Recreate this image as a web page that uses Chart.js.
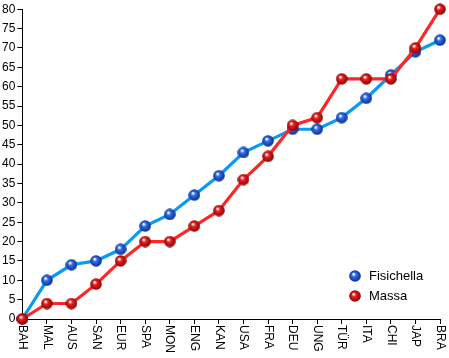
<!DOCTYPE html>
<html>
<head>
<meta charset="utf-8">
<script src="https://cdn.jsdelivr.net/npm/chart.js@4/dist/chart.umd.min.js"></script>
<style>
  html, body { margin: 0; padding: 0; background: #fff; }
  #wrap { width: 449px; height: 358px; }
</style>
</head>
<body>
<div id="wrap"><canvas id="pointsChart"></canvas></div>
<script>
const races = ['BAH', 'MAL', 'AUS', 'SAN', 'EUR', 'SPA', 'MON', 'ENG', 'KAN', 'USA',
  'FRA', 'DEU', 'UNG', 'TÜR', 'ITA', 'CHI', 'JAP', 'BRA'];
const fisichella = [0, 10, 14, 15, 18, 24, 27, 32, 37, 43, 46, 49, 49, 52, 57, 63, 69, 72];
const massa = [0, 4, 4, 9, 15, 20, 20, 24, 28, 36, 42, 50, 52, 62, 62, 62, 70, 80];

const FONT = '12px "Liberation Sans", Arial, sans-serif';

// little shaded ball used for the markers
function ball(base, dark) {
  const c = document.createElement('canvas');
  c.width = 12; c.height = 12;
  const g = c.getContext('2d');
  const grad = g.createRadialGradient(4.5, 4, 0.5, 6, 6, 6);
  grad.addColorStop(0, '#ffffff');
  grad.addColorStop(0.3, base);
  grad.addColorStop(1, dark);
  g.fillStyle = grad;
  g.beginPath();
  g.arc(6, 6, 5.8, 0, Math.PI * 2);
  g.fill();
  return c;
}
const blueBall = ball('#2f6ee8', '#0a2a8a');
const redBall = ball('#e82020', '#8a0000');

// x labels read top-to-bottom, drawn by hand
const downLabels = {
  id: 'downLabels',
  afterDraw(chart) {
    const ctx = chart.ctx;
    const x = chart.scales.x;
    ctx.save();
    ctx.font = FONT;
    ctx.fillStyle = '#000';
    ctx.textBaseline = 'middle';
    ctx.textAlign = 'left';
    chart.data.labels.forEach((lab, i) => {
      const px = x.getPixelForValue(i);
      ctx.save();
      ctx.translate(px, x.top + 6);
      ctx.rotate(Math.PI / 2);
      ctx.fillText(lab, 0, 0);
      ctx.restore();
    });
    ctx.restore();
  }
};

const insideLegend = {
  id: 'insideLegend',
  afterDraw(chart) {
    const ctx = chart.ctx;
    const items = [
      { img: blueBall, text: chart.data.datasets[0].label },
      { img: redBall, text: chart.data.datasets[1].label }
    ];
    ctx.save();
    ctx.font = '13px "Liberation Sans", Arial, sans-serif';
    ctx.fillStyle = '#000';
    ctx.textBaseline = 'middle';
    items.forEach((it, i) => {
      const y = 276 + i * 20;
      ctx.drawImage(it.img, 349, y - 6);
      ctx.fillText(it.text, 369, y);
    });
    ctx.restore();
  }
};

new Chart(document.getElementById('pointsChart'), {
  type: 'line',
  data: {
    labels: races,
    datasets: [{
      label: 'Fisichella',
      data: fisichella,
      borderColor: '#0b9af2',
      borderWidth: 3.2,
      pointStyle: blueBall,
      order: 1
    }, {
      label: 'Massa',
      data: massa,
      borderColor: '#ff2626',
      borderWidth: 3.2,
      pointStyle: redBall,
      order: 0
    }]
  },
  options: {
    responsive: true,
    maintainAspectRatio: false,
    animation: false,
    layout: { padding: { top: 1, right: 9, left: 0, bottom: 34 } },
    clip: false,
    plugins: {
      legend: { display: false },
      tooltip: { enabled: false }
    },
    scales: {
      x: {
        offset: false,
        grid: {
          drawOnChartArea: false,
          color: '#000',
          tickLength: 5
        },
        border: { color: '#000', width: 1 },
        ticks: { display: false, autoSkip: false }
      },
      y: {
        min: 0,
        max: 80,
        grid: {
          drawOnChartArea: false,
          color: '#000',
          tickLength: 5
        },
        border: { color: '#000', width: 1 },
        ticks: {
          stepSize: 5,
          color: '#000',
          padding: 2,
          font: { family: '"Liberation Sans", Arial, sans-serif', size: 12 }
        }
      }
    }
  },
  plugins: [downLabels, insideLegend]
});
</script>
</body>
</html>
